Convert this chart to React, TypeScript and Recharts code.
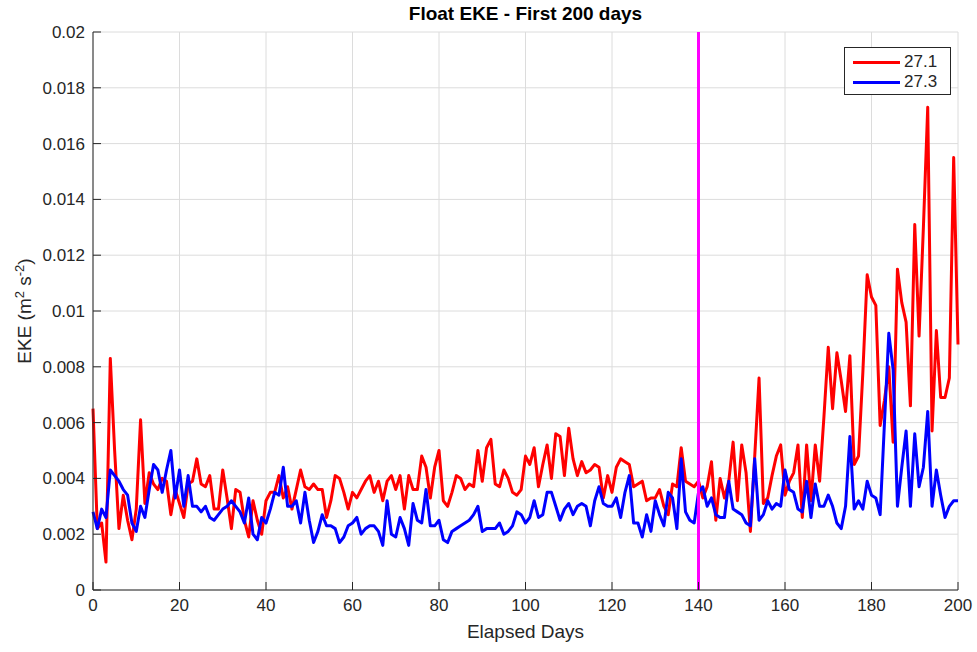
import { LineChart, Line, XAxis, YAxis, CartesianGrid, ReferenceLine } from "recharts"

// elapsed days 0..200
const days = Array.from({ length: 201 }, (_, i) => i)

// EKE for the 27.1 float (m^2 s^-2)
const eke271 = [
  0.0065, 0.0022, 0.0024, 0.001, 0.0083, 0.005, 0.0022, 0.0034, 0.0025, 0.0018,
  0.0029, 0.0061, 0.0031, 0.0042, 0.0038, 0.0036, 0.004, 0.0039, 0.0027, 0.0036,
  0.0031, 0.0026, 0.0038, 0.0039, 0.0047, 0.0038, 0.0037, 0.0041, 0.0029, 0.0029,
  0.0043, 0.0033, 0.0022, 0.0036, 0.0035, 0.0025, 0.0019, 0.0032, 0.0025, 0.002,
  0.0032, 0.0035, 0.0035, 0.0041, 0.0033, 0.0037, 0.0029, 0.0036, 0.0043, 0.0037,
  0.0036, 0.0038, 0.0036, 0.0036, 0.0026, 0.0032, 0.0041, 0.004, 0.0035, 0.0029,
  0.0035, 0.0033, 0.0036, 0.0039, 0.0041, 0.0035, 0.0039, 0.0032, 0.0039, 0.0041,
  0.0036, 0.0041, 0.0029, 0.0041, 0.0036, 0.0036, 0.0048, 0.0044, 0.0033, 0.0044,
  0.005, 0.0032, 0.003, 0.0035, 0.0041, 0.004, 0.0036, 0.0038, 0.0037, 0.005,
  0.0039, 0.0051, 0.0054, 0.0038, 0.0037, 0.0043, 0.004, 0.0035, 0.0034, 0.0036,
  0.0048, 0.0045, 0.0051, 0.0037, 0.0045, 0.0052, 0.004, 0.0056, 0.0055, 0.0041,
  0.0058, 0.0047, 0.0041, 0.0046, 0.0042, 0.0043, 0.0045, 0.0044, 0.0033, 0.0041,
  0.0035, 0.0044, 0.0047, 0.0046, 0.0045, 0.0037, 0.0038, 0.0039, 0.0032, 0.0033,
  0.0033, 0.0036, 0.003, 0.0027, 0.0038, 0.0037, 0.0051, 0.0039, 0.0038, 0.0037,
  0.0039, 0.0033, 0.0037, 0.0046, 0.0025, 0.004, 0.0033, 0.0039, 0.0053, 0.0032,
  0.0052, 0.0042, 0.0021, 0.0048, 0.0076, 0.0031, 0.0033, 0.0041, 0.0048, 0.0052,
  0.0034, 0.0039, 0.0042, 0.0052, 0.0026, 0.0052, 0.0032, 0.0052, 0.0039, 0.0062,
  0.0087, 0.0065, 0.0085, 0.0075, 0.0064, 0.0084, 0.0045, 0.0048, 0.0078, 0.0113,
  0.0105, 0.0102, 0.0059, 0.0068, 0.008, 0.0053, 0.0115, 0.0103, 0.0096, 0.0066,
  0.0131, 0.0091, 0.013, 0.0173, 0.0057, 0.0093, 0.0069, 0.0069, 0.0076, 0.0155,
  0.0088,
]

// EKE for the 27.3 float
const eke273 = [
  0.0028, 0.0022, 0.0029, 0.0026, 0.0043, 0.0041, 0.0039, 0.0036, 0.0034, 0.0024,
  0.0021, 0.003, 0.0026, 0.0036, 0.0045, 0.0043, 0.0035, 0.0043, 0.005, 0.0033,
  0.0043, 0.003, 0.0041, 0.003, 0.003, 0.0028, 0.003, 0.0026, 0.0025, 0.0027,
  0.0029, 0.003, 0.0032, 0.003, 0.0028, 0.0024, 0.0033, 0.002, 0.0018, 0.0026,
  0.0024, 0.0029, 0.0035, 0.0034, 0.0044, 0.003, 0.003, 0.0032, 0.0024, 0.0035,
  0.0025, 0.0017, 0.0021, 0.0027, 0.0023, 0.0023, 0.0022, 0.0017, 0.0019, 0.0023,
  0.0024, 0.0026, 0.002, 0.0022, 0.0023, 0.0023, 0.0021, 0.0016, 0.0032, 0.002,
  0.0019, 0.0026, 0.0022, 0.0016, 0.0031, 0.0025, 0.0024, 0.0036, 0.0023, 0.0023,
  0.0025, 0.0018, 0.0017, 0.0021, 0.0022, 0.0023, 0.0024, 0.0025, 0.0027, 0.003,
  0.0021, 0.0022, 0.0022, 0.0022, 0.0024, 0.002, 0.0021, 0.0023, 0.0028, 0.0027,
  0.0024, 0.0026, 0.0032, 0.0026, 0.0027, 0.0035, 0.0035, 0.003, 0.0025, 0.0029,
  0.0031, 0.0027, 0.003, 0.0031, 0.003, 0.0023, 0.0032, 0.0037, 0.0031, 0.003,
  0.003, 0.0033, 0.0026, 0.0035, 0.0041, 0.0024, 0.0024, 0.0019, 0.0027, 0.0021,
  0.0032, 0.0027, 0.0023, 0.0035, 0.0033, 0.0022, 0.0047, 0.0028, 0.0025, 0.0024,
  0.0035, 0.0037, 0.003, 0.0033, 0.0027, 0.0026, 0.0026, 0.0039, 0.0029, 0.0028,
  0.0027, 0.0024, 0.0023, 0.0047, 0.0025, 0.0027, 0.0032, 0.0029, 0.0031, 0.003,
  0.0043, 0.0036, 0.0035, 0.0029, 0.0028, 0.0039, 0.0026, 0.0038, 0.003, 0.003,
  0.0034, 0.003, 0.0024, 0.0022, 0.003, 0.0055, 0.0029, 0.0032, 0.0029, 0.0039,
  0.0034, 0.0033, 0.0027, 0.006, 0.0092, 0.0079, 0.003, 0.0044, 0.0057, 0.003,
  0.0056, 0.0037, 0.0044, 0.0064, 0.003, 0.0043, 0.0034, 0.0026, 0.003, 0.0032,
  0.0032,
]

const xTicks = [0, 20, 40, 60, 80, 100, 120, 140, 160, 180, 200]
const yTicks = [0, 0.002, 0.004, 0.006, 0.008, 0.01, 0.012, 0.014, 0.016, 0.018, 0.02]
const markerDay = 140

const data = days.map((d, i) => ({ day: d, s271: eke271[i], s273: eke273[i] }))

const axisColor = "#262626"
const font = "'Liberation Sans', Arial, Helvetica, sans-serif"

export default function App() {
  return (
    <div
      style={{
        position: "absolute",
        left: 0,
        top: 0,
        width: 977,
        height: 652,
        background: "#fff",
        fontFamily: font,
      }}
    >
      <LineChart
        width={977}
        height={652}
        data={data}
        margin={{ top: 32, right: 19, bottom: 32, left: 33 }}
      >
        <CartesianGrid stroke="#dcdcdc" strokeWidth={1} />
        <XAxis
          dataKey="day"
          type="number"
          domain={[0, 200]}
          ticks={xTicks}
          height={30}
          tickSize={-8}
          tickMargin={17}
          axisLine={{ stroke: axisColor }}
          tickLine={{ stroke: axisColor }}
          tick={{ fontSize: 17, fill: axisColor, fontFamily: font }}
        />
        <XAxis
          xAxisId="top"
          orientation="top"
          dataKey="day"
          type="number"
          domain={[0, 200]}
          ticks={xTicks}
          height={0}
          tickSize={-8}
          tick={false}
          axisLine={{ stroke: axisColor }}
          tickLine={{ stroke: axisColor }}
        />
        <YAxis
          type="number"
          domain={[0, 0.02]}
          ticks={yTicks}
          width={60}
          tickSize={-8}
          tickMargin={16}
          tickFormatter={(v: number) => String(v)}
          axisLine={{ stroke: axisColor }}
          tickLine={{ stroke: axisColor }}
          tick={{ fontSize: 17, fill: axisColor, fontFamily: font }}
        />
        <YAxis
          yAxisId="right"
          orientation="right"
          type="number"
          domain={[0, 0.02]}
          ticks={yTicks}
          width={0}
          tickSize={-8}
          tick={false}
          axisLine={{ stroke: axisColor }}
          tickLine={{ stroke: axisColor }}
        />
        <Line
          dataKey="s271"
          stroke="#ff0000"
          strokeWidth={3}
          dot={false}
          isAnimationActive={false}
          strokeLinejoin="round"
        />
        <Line
          dataKey="s273"
          stroke="#0000ff"
          strokeWidth={3}
          dot={false}
          isAnimationActive={false}
          strokeLinejoin="round"
        />
        <ReferenceLine x={markerDay} stroke="#ff00ff" strokeWidth={3} />
      </LineChart>

      <div
        style={{
          position: "absolute",
          top: 3,
          left: 93,
          width: 865,
          textAlign: "center",
          fontWeight: "bold",
          fontSize: 19,
          color: "#000",
        }}
      >
        Float EKE - First 200 days
      </div>

      <div
        style={{
          position: "absolute",
          top: 621,
          left: 93,
          width: 865,
          textAlign: "center",
          fontSize: 19,
          color: axisColor,
        }}
      >
        Elapsed Days
      </div>

      <div
        style={{
          position: "absolute",
          left: 24,
          top: 311,
          transform: "translate(-50%, -50%) rotate(-90deg)",
          whiteSpace: "nowrap",
          fontSize: 19,
          color: axisColor,
        }}
      >
        EKE (m<sup style={{ fontSize: 13 }}>2</sup> s<sup style={{ fontSize: 13 }}>-2</sup>)
      </div>

      <div
        style={{
          position: "absolute",
          left: 844,
          top: 47,
          width: 107,
          height: 48,
          boxSizing: "border-box",
          border: `1px solid ${axisColor}`,
          background: "#fff",
          fontSize: 17,
          color: axisColor,
        }}
      >
        {[
          { name: "27.1", color: "#ff0000" },
          { name: "27.3", color: "#0000ff" },
        ].map((item, i) => (
          <div
            key={item.name}
            style={{
              position: "absolute",
              left: 8,
              top: 4 + i * 20,
              height: 20,
              display: "flex",
              alignItems: "center",
            }}
          >
            <span
              style={{
                display: "inline-block",
                width: 47,
                height: 3,
                background: item.color,
                marginRight: 4,
              }}
            />
            <span>{item.name}</span>
          </div>
        ))}
      </div>
    </div>
  )
}
